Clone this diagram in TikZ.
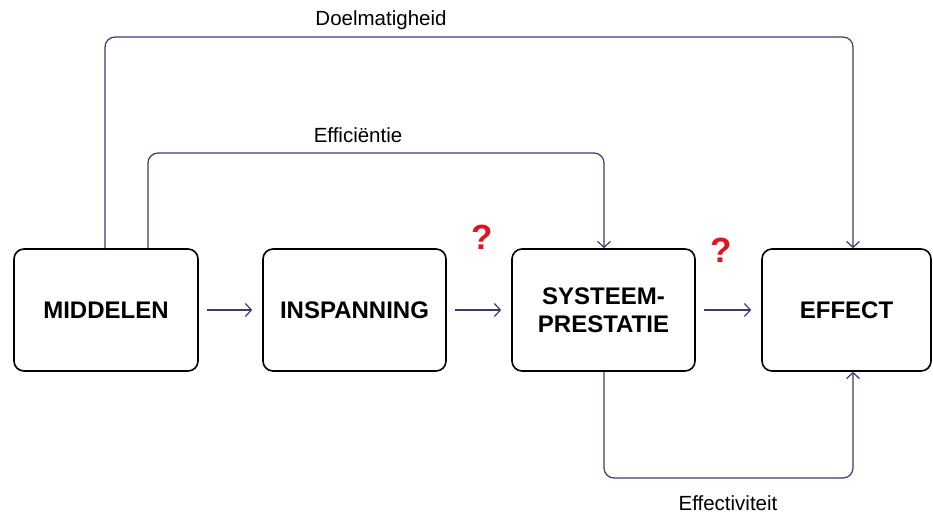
\documentclass[tikz,border=0pt]{standalone}
\usepackage{fontspec}
\setmainfont{Liberation Sans}
\usetikzlibrary{arrows.meta}
\definecolor{conn}{HTML}{3C3A6E}
\definecolor{qred}{HTML}{E0141E}
\tikzset{
  box/.style={draw=black, line width=1.6pt, rounded corners=10pt, minimum height=122pt, align=center, font=\fontsize{24}{28}\selectfont\bfseries, inner sep=0pt},
  conn/.style={draw=conn, line width=1.2pt, rounded corners=10pt, -{Straight Barb[length=6pt,width=13pt,line width=1.2pt]}},
  lab/.style={font=\fontsize{20.5}{24}\selectfont, text=black},
  qm/.style={font=\fontsize{35}{40}\selectfont\bfseries, text=qred}
}
\begin{document}
\begin{tikzpicture}[x=1pt,y=-1pt]
\useasboundingbox (0,0) rectangle (933,513);
\node[box, minimum width=184pt] (mid) at (106,310) {MIDDELEN};
\node[box, minimum width=183pt] (insp) at (354.5,310) {INSPANNING};
\node[box, minimum width=183pt] (sys) at (603.5,310) {SYSTEEM-\\[0pt]PRESTATIE};
\node[box, minimum width=169pt] (eff) at (846.5,310) {EFFECT};
\draw[conn] ([xshift=8pt]mid.east) -- ([xshift=-10pt]insp.west);
\draw[conn] ([xshift=8pt]insp.east) -- ([xshift=-10pt]sys.west);
\draw[conn] ([xshift=8pt]sys.east) -- ([xshift=-10pt]eff.west);
\coordinate (dtl) at (105,37);
\coordinate (dtr) at (853,37);
\draw[conn] (mid.north -| dtl) -- (dtl) -- (dtr) -- (eff.north -| dtr);
\coordinate (etl) at (148,153);
\coordinate (etr) at (604,153);
\draw[conn] (mid.north -| etl) -- (etl) -- (etr) -- (sys.north -| etr);
\coordinate (fbl) at (604,478);
\coordinate (fbr) at (853,478);
\draw[conn] (sys.south -| fbl) -- (fbl) -- (fbr) -- (eff.south -| fbr);
\node[lab] (ld) at (381,20) {Doelmatigheid};
\node[lab] (le) at (358,135) {Efficiëntie};
\node[lab] (lf) at (728,503) {Effectiviteit};
\node[qm] (q1) at (482,237) {?};
\node[qm] (q2) at (721,250) {?};
\end{tikzpicture}
\end{document}
